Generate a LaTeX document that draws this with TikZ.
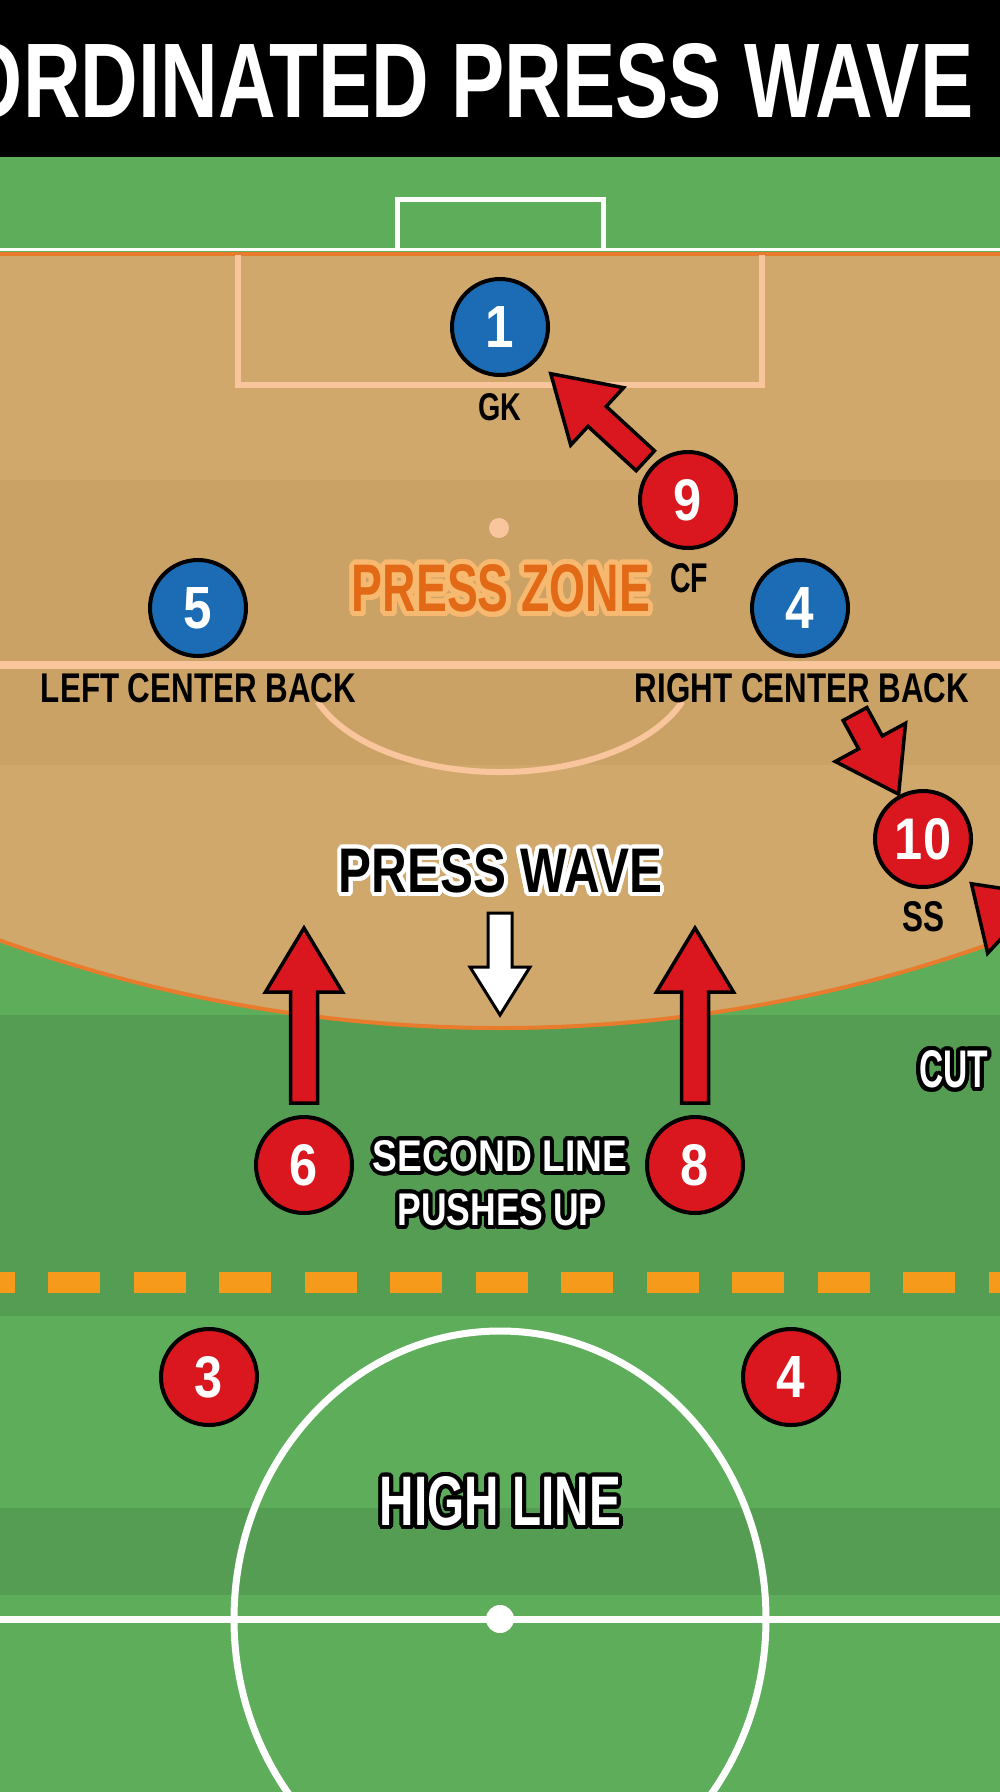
\documentclass[tikz,border=0pt]{standalone}
\usepackage{fontspec}
\setmainfont{Liberation Sans}
\usepackage{graphicx}
\usetikzlibrary{calc}
\definecolor{glight}{HTML}{5DAD5B}
\definecolor{gdark}{HTML}{569D54}
\definecolor{tanl}{HTML}{D0A86C}
\definecolor{tand}{HTML}{CAA266}
\definecolor{orline}{HTML}{E87B2C}
\definecolor{peach}{HTML}{F8C59C}
\definecolor{pblue}{HTML}{1B6CB4}
\definecolor{pred}{HTML}{DA161E}
\definecolor{dashor}{HTML}{F59A1B}
\definecolor{pzorange}{HTML}{E26A16}
\definecolor{pzout}{HTML}{F7B870}
\newbox\olbx
\newcommand\outlinetext[4]{%
  \setbox\olbx=\hbox{#4}%
  \foreach \rr in {#2,#2*0.5}{%
  \foreach \ang in {0,15,...,345}{%
    \pgfmathsetlengthmacro\odx{\rr*cos(\ang)}%
    \pgfmathsetlengthmacro\ody{\rr*sin(\ang)}%
    \rlap{\kern\odx\raisebox{\ody}{\textcolor{#1}{\copy\olbx}}}}}%
  \textcolor{#3}{\box\olbx}}
\newcommand\ctext[3]{\resizebox{#1}{#2}{\bfseries #3}}
\newcommand\pnum[1]{\textcolor{white}{\resizebox{!}{41pt}{\bfseries\scalebox{0.86}[1]{#1}}}}
\newcommand\blockarrow[6]{%
  \coordinate (ba-b) at ($(#3)!#6!(#2)$);
  \draw[#1] ($(#2)!#4!90:(#3)$) -- ($(ba-b)!#4!-90:(#2)$) -- ($(ba-b)!#5!-90:(#2)$) -- (#3)
    -- ($(ba-b)!#5!90:(#2)$) -- ($(ba-b)!#4!90:(#2)$) -- ($(#2)!#4!-90:(#3)$) -- cycle;}
\tikzset{
  player/.style={circle, draw=black, line width=4pt, minimum size=96pt, inner sep=0pt},
  blueP/.style={player, fill=pblue},
  redP/.style={player, fill=pred},
  txt/.style={inner sep=0pt, outer sep=0pt, text=black},
  redarrow/.style={fill=pred, draw=black, line width=3.5pt, line join=miter},
  whitearrow/.style={fill=white, draw=black, line width=3pt, line join=miter},
  peachline/.style={draw=peach, line width=6pt},
}
\begin{document}
\begin{tikzpicture}[x=1pt,y=-1pt]
\useasboundingbox (0,0) rectangle (1000,1792);
\clip (0,0) rectangle (1000,1792);
% grass
\fill[glight] (0,0) rectangle (1000,1792);
\fill[gdark] (0,1015) rectangle (1000,1316);
\fill[gdark] (0,1508) rectangle (1000,1595);
% title bar
\fill[black] (0,0) rectangle (1000,157);
\node[txt, anchor=base west, text=white] (title) at (-39,117) {\ctext{1012pt}{74pt}{ORDINATED PRESS WAVE}};
% goal
\draw[white, line width=5pt] (397,251) -- (397,199) -- (603,199) -- (603,251);
\draw[white, line width=3pt] (0,249) -- (1000,249);
% tan zone
\begin{scope}
  \clip (0,255) rectangle (1000,1100);
  \clip (500,-436) circle[radius=1464pt];
  \fill[tanl] (0,255) rectangle (1000,1100);
  \fill[tand] (0,480) rectangle (1000,765);
\end{scope}
\begin{scope}
  \clip (0,255) rectangle (1000,1100);
  \draw[orline, line width=4pt] (500,-436) circle[radius=1464pt];
\end{scope}
\draw[orline, line width=4pt] (0,253.5) -- (1000,253.5);
% peach markings
\draw[peachline] (238,255) -- (238,385) -- (762,385) -- (762,255);
\draw[peachline, line width=8pt] (0,665) -- (1000,665);
\fill[peach] (499,528) circle[radius=10pt];
\draw[peachline] (500,665) ++(200:194pt and 107pt) arc[start angle=200, end angle=340, x radius=194pt, y radius=107pt];
% dashed line
\draw[dashor, line width=21pt, dash pattern=on 52pt off 33.5pt] (-37.5,1282.5) -- (1040,1282.5);
% centre circle
\draw[white, line width=7pt] (500,1619) ellipse[x radius=266pt, y radius=288pt];
\draw[white, line width=7pt] (0,1619) -- (1000,1619);
\fill[white] (500,1619) circle[radius=14pt];
% players
\node[blueP] (p1) at (500,327) {\pnum{1}};
\node[redP] (p9) at (688,500) {\pnum{9}};
\node[blueP] (p5) at (198,608) {\pnum{5}};
\node[blueP] (p4b) at (800,608) {\pnum{4}};
\node[redP] (p10) at (923,839) {\pnum{10}};
\node[redP] (p6) at (304,1165) {\pnum{6}};
\node[redP] (p8) at (695,1165) {\pnum{8}};
\node[redP] (p3) at (209,1377) {\pnum{3}};
\node[redP] (p4r) at (791,1377) {\pnum{4}};
% labels
\node[txt] (gk) at (500,407) {\ctext{43pt}{27pt}{GK}};
\node[txt] (cf) at (689,578) {\ctext{38pt}{29pt}{CF}};
\node[txt] (ss) at (923,917) {\ctext{42pt}{30pt}{SS}};
\node[txt] (lcb) at (198.5,688) {\ctext{315pt}{29pt}{LEFT CENTER BACK}};
\node[txt] (rcb) at (802,688) {\ctext{334pt}{29pt}{RIGHT CENTER BACK}};
\node[txt] (pz) at (501,588.5) {\outlinetext{pzout}{5}{pzorange}{\ctext{298pt}{47pt}{PRESS ZONE}}};
\node[txt] (pw) at (500.5,871) {\outlinetext{white}{4}{black}{\ctext{323pt}{44pt}{PRESS WAVE}}};
\node[txt] (sl1) at (500,1156) {\outlinetext{black}{4}{white}{\ctext{254pt}{31pt}{SECOND LINE}}};
\node[txt] (sl2) at (500,1210) {\outlinetext{black}{4}{white}{\ctext{205pt}{32pt}{PUSHES UP}}};
\node[txt] (cut) at (953.5,1069.5) {\outlinetext{black}{4}{white}{\ctext{69pt}{37pt}{CUT}}};
\node[txt] (hl) at (500.5,1501.5) {\outlinetext{black}{4}{white}{\ctext{241pt}{49pt}{HIGH LINE}}};
% arrows
\coordinate (a91tail) at ($(p9)!58pt!(p1)$);
\coordinate (a91tip) at ($(p1)!69pt!(p9)$);
\blockarrow{redarrow}{a91tail}{a91tip}{13.5pt}{39pt}{63pt}
\coordinate (a10atail) at (855,714);
\coordinate (a10atip) at ($(p10)!51pt!(a10atail)$);
\blockarrow{redarrow}{a10atail}{a10atip}{13.5pt}{40pt}{59pt}
\coordinate (a10btail) at (1067,972);
\coordinate (a10btip) at ($(p10)!66pt!(a10btail)$);
\blockarrow{redarrow}{a10btail}{a10btip}{13.5pt}{40pt}{59pt}
\coordinate (a6tail) at ($(p6.north)+(0,-12)$);
\coordinate (a6tip) at ($(p6.north)+(0,-187)$);
\blockarrow{redarrow}{a6tail}{a6tip}{13.5pt}{38.5pt}{64pt}
\coordinate (a8tail) at ($(p8.north)+(0,-12)$);
\coordinate (a8tip) at ($(p8.north)+(0,-187)$);
\blockarrow{redarrow}{a8tail}{a8tip}{13.5pt}{38.5pt}{64pt}
\coordinate (awtail) at (500,913);
\coordinate (awtip) at (500,1015);
\blockarrow{whitearrow}{awtail}{awtip}{12pt}{30pt}{48pt}
\end{tikzpicture}
\end{document}
